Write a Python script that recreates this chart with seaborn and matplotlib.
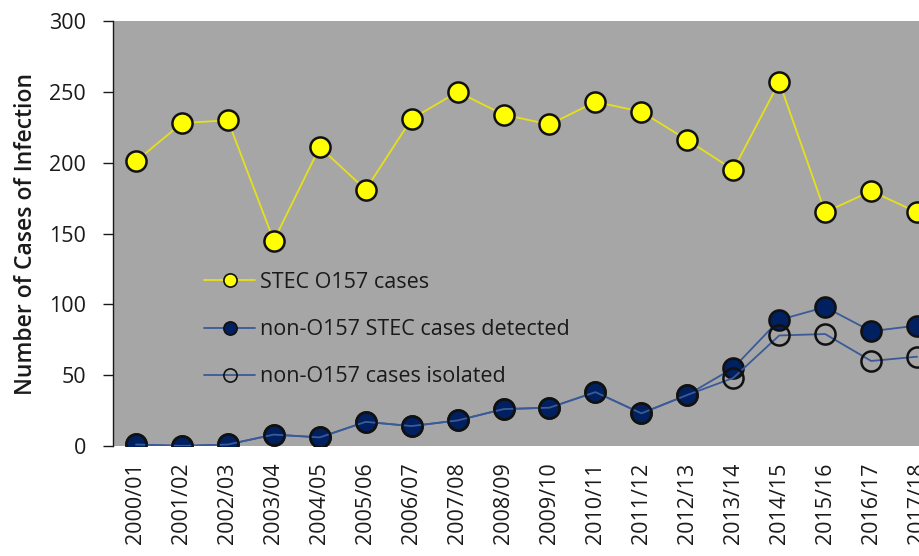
import matplotlib
matplotlib.use("Agg")
import matplotlib.pyplot as plt
import seaborn as sns
import pandas as pd
from matplotlib.lines import Line2D

seasons = ["2000/01", "2001/02", "2002/03", "2003/04", "2004/05", "2005/06",
           "2006/07", "2007/08", "2008/09", "2009/10", "2010/11", "2011/12",
           "2012/13", "2013/14", "2014/15", "2015/16", "2016/17", "2017/18"]
o157_cases = [201, 228, 230, 145, 211, 181, 231, 250, 234, 227, 243, 236,
              216, 195, 257, 165, 180, 165]
non_o157_detected = [1, 0, 1, 8, 6, 17, 14, 18, 26, 27, 38, 23,
                     36, 55, 89, 98, 81, 85]
non_o157_isolated = [1, 0, 1, 8, 6, 17, 14, 18, 26, 27, 38, 23,
                     36, 48, 78, 79, 60, 63]
y_ticks = [0, 50, 100, 150, 200, 250, 300]

sns.set_style("white", {"axes.facecolor": "#a6a6a6"})
plt.rcParams["font.family"] = ["Open Sans", "DejaVu Sans"]
plt.rcParams["text.color"] = "#1a1a1a"

df = pd.DataFrame({
    "season": seasons,
    "pos": list(range(len(seasons))),
    "o157": o157_cases,
    "detected": non_o157_detected,
    "isolated": non_o157_isolated,
})

fig = plt.figure(figsize=(9.2, 5.56), dpi=100)
ax = fig.add_axes([0.1228, 0.198, 0.899, 0.764])

navy = "#002060"
blue_line = "#3a5a98"
yellow = "#ffff00"
yellow_line = "#e6e01a"
edge = "#111111"

sns.lineplot(data=df, x="pos", y="detected", ax=ax, color=blue_line, lw=1.3,
             marker="o", markersize=14.5, markerfacecolor=navy,
             markeredgecolor=edge, markeredgewidth=1.8, zorder=3)
sns.lineplot(data=df, x="pos", y="isolated", ax=ax, color=blue_line, lw=1.3,
             marker="o", markersize=14.5, markerfacecolor="none",
             markeredgecolor=edge, markeredgewidth=1.8, zorder=4)
sns.lineplot(data=df, x="pos", y="o157", ax=ax, color=yellow_line, lw=1.3,
             marker="o", markersize=14.5, markerfacecolor=yellow,
             markeredgecolor=edge, markeredgewidth=1.8, zorder=5)

ax.set_xlim(-0.5, len(seasons) - 0.5)
ax.set_ylim(0, 300)
ax.set_yticks(y_ticks)
ax.set_xticks(df["pos"])
ax.set_xticklabels(seasons, rotation=90, fontsize=15.5, color="#1a1a1a")
ax.tick_params(axis="x", length=0, pad=12)
ax.tick_params(axis="y", which="major", left=True, direction="out", length=7.5,
               width=1, color="#1a1a1a", pad=12, labelsize=15.5,
               labelcolor="#1a1a1a")
ax.set_xlabel("")
ax.set_ylabel("Number of Cases of Infection", fontsize=16.5, fontweight="semibold",
              color="#1a1a1a", labelpad=8)

for side in ["top", "right", "bottom"]:
    ax.spines[side].set_visible(False)
ax.spines["left"].set_color("#1a1a1a")
ax.spines["left"].set_linewidth(1)

handles = [
    Line2D([], [], color=yellow_line, lw=1.3, marker="o", markersize=9.5,
           markerfacecolor=yellow, markeredgecolor=edge, markeredgewidth=1.2),
    Line2D([], [], color=blue_line, lw=1.3, marker="o", markersize=9.5,
           markerfacecolor=navy, markeredgecolor=edge, markeredgewidth=1.2),
    Line2D([], [], color=blue_line, lw=1.3, marker="o", markersize=9.5,
           markerfacecolor="none", markeredgecolor=edge, markeredgewidth=1.2),
]
labels = ["STEC O157 cases", "non-O157 STEC cases detected",
          "non-O157 cases isolated"]
ax.legend(handles, labels, loc="upper left", bbox_to_anchor=(0.1, 0.43),
          frameon=False, fontsize=15.5, handlelength=2.35, handletextpad=0.25,
          labelspacing=1.22, borderaxespad=0)

fig.savefig("out.png", dpi=100)
